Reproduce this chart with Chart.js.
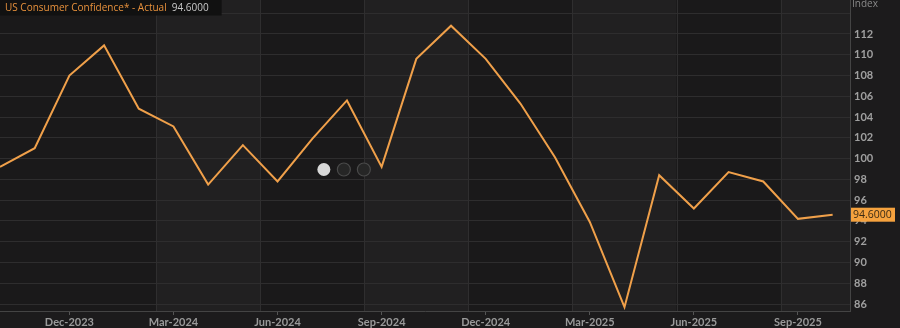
<!DOCTYPE html>
<html><head><meta charset="utf-8">
<script src="https://cdn.jsdelivr.net/npm/chart.js@4"></script>
<style>html,body{margin:0;padding:0;background:#1c1b1c;}#wrap{width:900px;height:328px;position:relative;}</style>
</head><body><div id="wrap"><canvas id="c" width="900" height="328"></canvas></div>
<script>
const months = ['Oct-2023','Nov-2023','Dec-2023','Jan-2024','Feb-2024','Mar-2024','Apr-2024','May-2024','Jun-2024','Jul-2024','Aug-2024','Sep-2024','Oct-2024','Nov-2024','Dec-2024','Jan-2025','Feb-2025','Mar-2025','Apr-2025','May-2025','Jun-2025','Jul-2025','Aug-2025','Sep-2025','Oct-2025'];
const values = [99.2,101.0,108.0,110.9,104.8,103.1,97.5,101.3,97.8,101.9,105.6,99.2,109.6,112.8,109.6,105.3,100.1,93.9,85.7,98.4,95.2,98.7,97.8,94.2,94.6];
const tickMonths = ['Dec','Mar','Jun','Sep'];
const bandMonths = ['Mar','Jun','Sep','Dec'];
const yTicks = [86,88,90,92,94,96,98,100,102,104,106,108,110,112,114];
const seriesName = 'US Consumer Confidence* - Actual';
const lastValue = values[values.length-1];

const bandPlugin = {
  id:'bands',
  beforeDraw(chart){
    const {ctx, chartArea:a, scales:{x}} = chart;
    ctx.save();
    ctx.fillStyle='#1c1b1c';
    ctx.fillRect(0,0,chart.width,chart.height);
    const bounds=[x.min];
    for(let i=2;i<months.length-1;i++){
      if(bandMonths.includes(months[i+1].slice(0,3))) bounds.push(i+0.5);
    }
    bounds.push(x.max);
    for(let k=0;k<bounds.length-1;k++){
      const x0=x.getPixelForValue(bounds[k]), x1=x.getPixelForValue(bounds[k+1]);
      ctx.fillStyle = (k%2===0)?'#1a191a':'#212021';
      ctx.fillRect(x0,a.top,x1-x0,a.bottom-a.top);
    }
    chart.$bounds=bounds;
    ctx.restore();
  },
  beforeDatasetsDraw(chart){
    const {ctx, chartArea:a, scales:{x}} = chart;
    ctx.save();
    ctx.strokeStyle='#2f2e2f';
    ctx.lineWidth=1;
    (chart.$bounds||[]).slice(1,-1).forEach(b=>{
      const px=Math.round(x.getPixelForValue(b))+0.5;
      ctx.beginPath();ctx.moveTo(px,a.top);ctx.lineTo(px,a.bottom);ctx.stroke();
    });
    const cy=a.top+(a.bottom-a.top)*0.545, cx=a.left+(a.right-a.left)*0.381;
    [0,1,2].forEach(i=>{
      ctx.beginPath();ctx.arc(cx+i*20,cy,6.5,0,Math.PI*2);
      if(i===0){ctx.fillStyle='#d8d8d8';ctx.fill();}
      else{ctx.fillStyle='#262626';ctx.fill();ctx.strokeStyle='#4a4a4a';ctx.lineWidth=1.2;ctx.stroke();}
    });
    ctx.restore();
  },
  afterDraw(chart){
    const {ctx, chartArea:a, scales:{y}} = chart;
    ctx.save();
    ctx.font='10px "Open Sans", sans-serif';
    ctx.textBaseline='middle';
    const w1=ctx.measureText(seriesName).width;
    const w2=ctx.measureText(lastValue.toFixed(4)).width;
    ctx.fillStyle='#111111';
    ctx.fillRect(0,0,5+w1+5+w2+13,15.5);
    ctx.fillStyle='#e8913c';
    ctx.fillText(seriesName,5,8);
    ctx.fillStyle='#c8c8c8';
    ctx.fillText(lastValue.toFixed(4),5+w1+5,8);
    ctx.font='10px "Open Sans", sans-serif';
    ctx.fillStyle='#8a8a8a';
    ctx.fillText('Index',a.right+2,4);
    const py=y.getPixelForValue(lastValue);
    ctx.fillStyle='#f5a23e';
    ctx.fillRect(a.right+1,py-7,44,14);
    ctx.fillStyle='#3a2a14';
    ctx.font='10.5px "Open Sans", sans-serif';
    ctx.fillText(lastValue.toFixed(4),a.right+3,py+0.5);
    ctx.restore();
  }
};

new Chart(document.getElementById('c'),{
  type:'line',
  data:{datasets:[{
    data: values.map((v,i)=>({x:i,y:v})),
    borderColor:'#f0a04a',
    borderWidth:2,
    pointRadius:0,
    tension:0,
    fill:false
  }]},
  options:{
    responsive:false,
    animation:false,
    events:[],
    layout:{padding:0},
    plugins:{legend:{display:false},tooltip:{enabled:false}},
    scales:{
      x:{
        type:'linear',
        min:0, max:24.5,
        afterBuildTicks(s){
          s.ticks = months.map((m,i)=>({value:i,m})).filter(t=>tickMonths.includes(t.m.slice(0,3))).map(t=>({value:t.value}));
        },
        afterFit(s){s.height=17;s.paddingLeft=0;s.paddingRight=0;},
        grid:{drawOnChartArea:false,drawTicks:true,tickLength:4,color:'#555'},
        border:{color:'#444',width:1},
        ticks:{
          callback:(v)=>months[v]||'',
          color:'#9a9a9a',
          font:{family:'Lato',size:11,weight:'bold'},
          padding:1,
          maxRotation:0,
          autoSkip:false
        }
      },
      y:{
        position:'right',
        min:85.33, max:115.27,
        afterBuildTicks(s){ s.ticks = yTicks.map(v=>({value:v})); },
        afterFit(s){s.width=50;s.paddingTop=0;s.paddingBottom=0;},
        grid:{color:'#2e2d2e',drawTicks:false},
        border:{color:'#444',width:1},
        ticks:{
          callback:(v)=> v>=114?'':String(v),
          color:'#a0a0a0',
          font:{family:'Lato',size:11,weight:'bold'},
          padding:4
        }
      }
    }
  },
  plugins:[bandPlugin]
});
</script></body></html>
